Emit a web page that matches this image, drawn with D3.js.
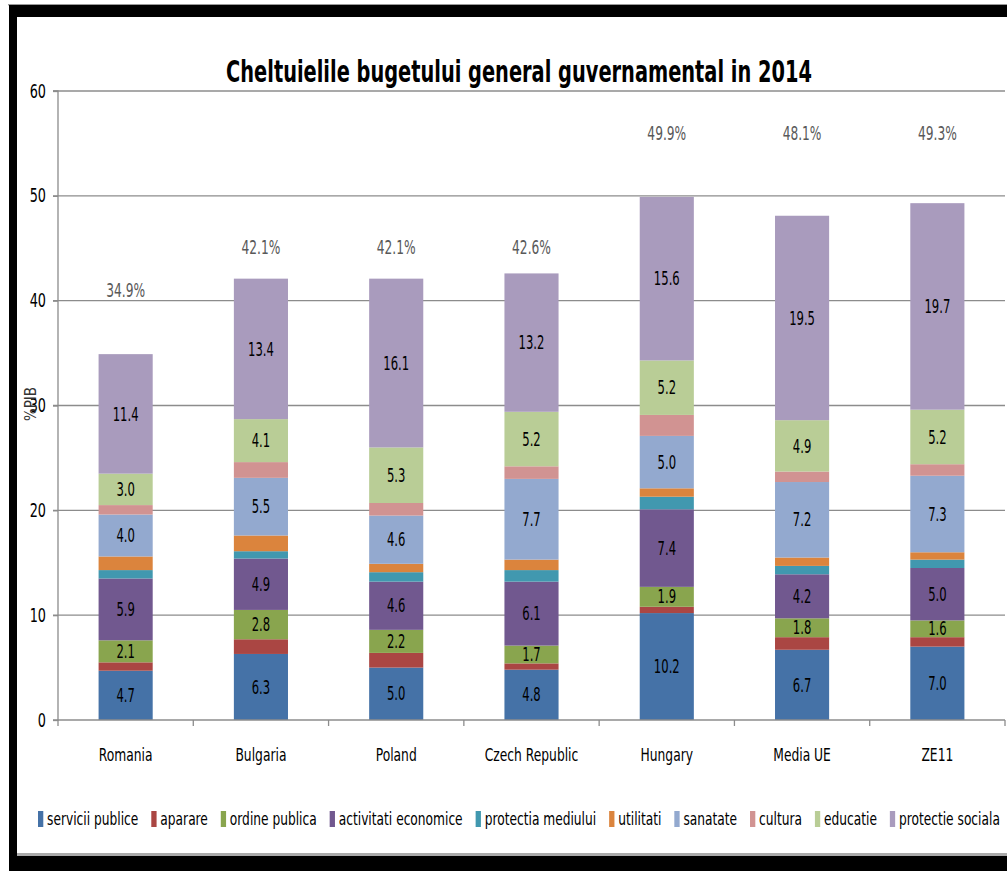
<!DOCTYPE html>
<html>
<head>
<meta charset="utf-8">
<script src="https://cdn.jsdelivr.net/npm/d3@7/dist/d3.min.js"></script>
<style>
  html, body { margin: 0; padding: 0; background: #fff; }
  svg { display: block; }
  .narrow { font-family: "Liberation Sans Narrow", "Arial Narrow", "DejaVu Sans Condensed", sans-serif; }
</style>
</head>
<body>
<svg id="chart" width="1007" height="871"></svg>
<script>
// Cheltuieli bugetare pe funcții, % din PIB, 2014
const countries = ["Romania", "Bulgaria", "Poland", "Czech Republic", "Hungary", "Media UE", "ZE11"];

const seriesNames = ["servicii publice", "aparare", "ordine publica", "activitati economice",
  "protectia mediului", "utilitati", "sanatate", "cultura", "educatie", "protectie sociala"];

const serviciiPublice     = [4.7, 6.3, 5.0, 4.8, 10.2, 6.7, 7.0];
const aparare             = [0.8, 1.4, 1.4, 0.6, 0.6, 1.2, 0.9];
const ordinePublica       = [2.1, 2.8, 2.2, 1.7, 1.9, 1.8, 1.6];
const activitatiEconomice = [5.9, 4.9, 4.6, 6.1, 7.4, 4.2, 5.0];
const protectiaMediului   = [0.8, 0.7, 0.9, 1.1, 1.2, 0.8, 0.8];
const utilitati           = [1.3, 1.5, 0.8, 1.0, 0.8, 0.8, 0.7];
const sanatate            = [4.0, 5.5, 4.6, 7.7, 5.0, 7.2, 7.3];
const cultura             = [0.9, 1.5, 1.2, 1.2, 2.0, 1.0, 1.1];
const educatie            = [3.0, 4.1, 5.3, 5.2, 5.2, 4.9, 5.2];
const protectieSociala    = [11.4, 13.4, 16.1, 13.2, 15.6, 19.5, 19.7];

// series whose segments carry a value label
const labelledSeries = ["servicii publice", "ordine publica", "activitati economice",
  "sanatate", "educatie", "protectie sociala"];

// value level (on the %PIB axis) at which each total label is written
const totalLabelLevel = [41.0, 45.1, 45.1, 45.1, 56.0, 56.0, 56.0];

const yTicks = [0, 10, 20, 30, 40, 50, 60];

const seriesValues = [serviciiPublice, aparare, ordinePublica, activitatiEconomice,
  protectiaMediului, utilitati, sanatate, cultura, educatie, protectieSociala];

const colors = ["#4572A7", "#AA4643", "#89A54E", "#71588F", "#4198AF",
  "#DB843D", "#93A9CF", "#D19392", "#B9CD96", "#A99BBD"];

const table = countries.map((c, i) => {
  const row = { country: c };
  seriesNames.forEach((s, k) => { row[s] = seriesValues[k][i]; });
  return row;
});

const svg = d3.select("#chart");
const W = 1007, H = 871;

// squeeze a text horizontally around its anchor so that it fits a width
function squeezeTo(sel, cx, cy, width) {
  const w = sel.node().getComputedTextLength();
  const k = Math.min(1, width / w);
  sel.attr("x", 0).attr("y", 0).attr("transform", `translate(${cx},${cy}) scale(${k},1)`);
}

// frame
svg.append("rect").attr("x", 0).attr("y", 0).attr("width", W).attr("height", H).attr("fill", "#fff");
svg.append("rect").attr("x", 8).attr("y", 4).attr("width", W - 8).attr("height", 1.5).attr("fill", "#999");
svg.append("rect").attr("x", 9).attr("y", 5).attr("width", W - 9).attr("height", 12).attr("fill", "#000");
svg.append("rect").attr("x", 9).attr("y", 5).attr("width", 8).attr("height", H - 5).attr("fill", "#000");
svg.append("rect").attr("x", 17).attr("y", 853).attr("width", W - 17).attr("height", 3).attr("fill", "#aaa");
svg.append("rect").attr("x", 9).attr("y", 856).attr("width", W - 9).attr("height", H - 856).attr("fill", "#000");

const x0 = 58, x1 = 1005, yTop = 91, yBottom = 720;

const x = d3.scaleBand().domain(countries).range([x0, x1]).paddingInner(0.6).paddingOuter(0.3);
const xb = d3.scaleBand().domain(countries).range([x0, x1]);
const y = d3.scaleLinear().domain([0, 60]).range([yBottom, yTop]);

// gridlines
svg.append("g")
  .selectAll("line").data(yTicks.filter(t => t > 0)).join("line")
  .attr("x1", x0 - 5).attr("x2", x1)
  .attr("y1", d => y(d)).attr("y2", d => y(d))
  .attr("stroke", "#8c8c8c").attr("stroke-width", 1.3);

// title
const title = svg.append("text")
  .attr("class", "narrow")
  .attr("text-anchor", "middle")
  .attr("font-size", 31).attr("font-weight", "bold")
  .attr("fill", "#000")
  .text("Cheltuielile bugetului general guvernamental in 2014");
squeezeTo(title, 519, 82, 586);

// stacked bars
const stack = d3.stack().keys(seriesNames);
const layers = stack(table);

const gBars = svg.append("g");
layers.forEach((layer, k) => {
  gBars.append("g").attr("fill", colors[k])
    .selectAll("rect").data(layer).join("rect")
    .attr("x", d => x(d.data.country))
    .attr("width", x.bandwidth())
    .attr("y", d => y(d[1]))
    .attr("height", d => y(d[0]) - y(d[1]));
});

// segment value labels
const gLab = svg.append("g").attr("class", "narrow").attr("font-size", 19).attr("fill", "#000").attr("text-anchor", "middle");
layers.forEach(layer => {
  if (!labelledSeries.includes(layer.key)) return;
  gLab.append("g").selectAll("text").data(layer).join("text")
    .attr("dy", "0.35em")
    .text(d => d3.format(".1f")(d[1] - d[0]))
    .attr("transform", d => `translate(${x(d.data.country) + x.bandwidth() / 2},${y((d[0] + d[1]) / 2)}) scale(0.68,1)`);
});

// totals
const totals = countries.map((c, i) => d3.sum(seriesValues, s => s[i]));
svg.append("g").attr("class", "narrow").attr("font-size", 20).attr("fill", "#595959").attr("text-anchor", "middle")
  .selectAll("text").data(countries).join("text")
  .attr("dy", "0.35em")
  .attr("transform", (d, i) => `translate(${x(d) + x.bandwidth() / 2},${y(totalLabelLevel[i])}) scale(0.68,1)`)
  .text((d, i) => d3.format(".1f")(totals[i]) + "%");

// y axis
const yAxis = svg.append("g").attr("transform", `translate(${x0},0)`)
  .call(d3.axisLeft(y).tickValues(yTicks).tickSize(5).tickFormat(d3.format("d")));
yAxis.select(".domain").attr("stroke", "#8c8c8c").attr("stroke-width", 1.3).attr("d", `M-5,${yTop}H0V${yBottom}H-5`);
yAxis.selectAll(".tick line").attr("stroke", "#8c8c8c").attr("stroke-width", 1.3);
yAxis.selectAll(".tick text").attr("class", "narrow").attr("font-size", 19).attr("fill", "#000")
  .attr("x", 0).attr("transform", "translate(-12,0) scale(0.75,1)");
yAxis.attr("font-family", null);

// x axis
const xAxis = svg.append("g").attr("transform", `translate(0,${yBottom})`)
  .call(d3.axisBottom(xb).tickSize(0).tickPadding(28));
xAxis.select(".domain").attr("stroke", "#8c8c8c").attr("stroke-width", 1.3).attr("d", `M${x0},0H${x1}`);
xAxis.selectAll(".tick text").attr("class", "narrow").attr("font-size", 18).attr("fill", "#000")
  .attr("transform", "scale(0.76,1)");
xAxis.attr("font-family", null);
// band boundary ticks
svg.append("g").selectAll("line").data(countries.concat(["end"])).join("line")
  .attr("x1", (d, i) => x0 + i * xb.step()).attr("x2", (d, i) => x0 + i * xb.step())
  .attr("y1", yBottom).attr("y2", yBottom + 6)
  .attr("stroke", "#8c8c8c").attr("stroke-width", 1.3);

// y axis title
svg.append("text").attr("class", "narrow")
  .attr("transform", "translate(36,404) rotate(-90)")
  .attr("text-anchor", "middle").attr("font-size", 15).attr("fill", "#333")
  .text("%PIB");

// legend: laid out at natural width, then squeezed to fit the row
const legendRow = svg.append("g").attr("transform", "translate(38,819)");
const legend = legendRow.append("g").attr("class", "narrow").attr("font-size", 18);
let lx = 0;
seriesNames.forEach((s, k) => {
  legend.append("rect").attr("x", lx).attr("y", -8).attr("width", 7).attr("height", 16).attr("fill", colors[k]);
  const t = legend.append("text").attr("x", lx + 12).attr("y", 0).attr("dy", "0.35em").attr("fill", "#000").text(s);
  lx += 12 + t.node().getComputedTextLength() + 17;
});
const legendWidth = lx - 17;
legend.attr("transform", `scale(${962 / legendWidth},1)`);
</script>
</body>
</html>
